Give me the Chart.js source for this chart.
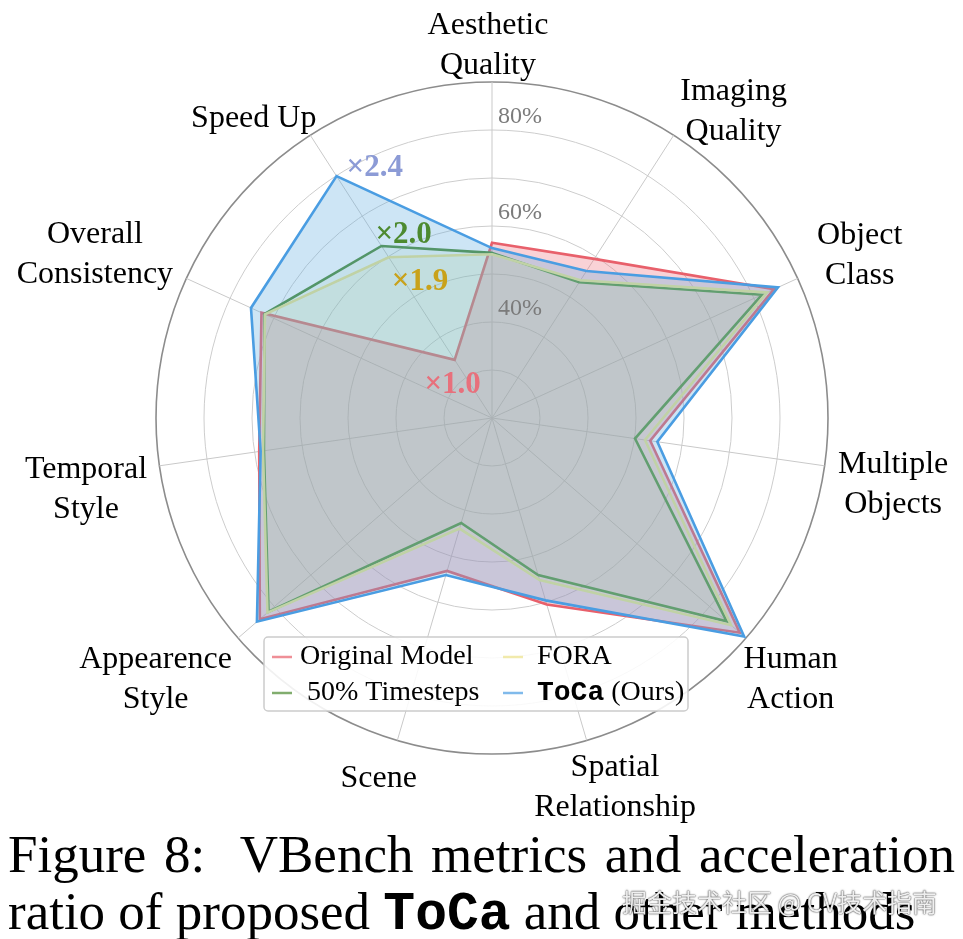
<!DOCTYPE html>
<html>
<head>
<meta charset="utf-8">
<script src="https://cdn.jsdelivr.net/npm/chart.js@4.4.0/dist/chart.umd.min.js"></script>
<style>
  html, body { margin: 0; padding: 0; background: #fff; }
  #wrap { position: relative; width: 963px; height: 939px; overflow: hidden; }
  #wrap canvas { position: absolute; left: 0; top: 0; }
  .caption {
    position: absolute; left: 8px; width: 947px;
    font-family: 'Liberation Serif', serif; font-size: 53px; line-height: 57px; color: #000;
  }
  #cap1 { top: 826px; text-align: justify; text-align-last: justify; }
  #cap2 { top: 883px; white-space: nowrap; }
  #cap2 b { font-family: 'Liberation Mono', monospace; }
  #mark {
    position: absolute; left: 622px; top: 883px;
    font-family: 'Noto Sans CJK SC', sans-serif; font-size: 25px; color: rgba(255,255,255,0.92);
    text-shadow: 0 0 2px rgba(0,0,0,0.7), 0 0 1px rgba(0,0,0,0.7);
    white-space: nowrap;
  }
</style>
</head>
<body>
<div id="wrap">
  <canvas id="radarChart"></canvas>
  <div class="caption" id="cap1">Figure 8:&nbsp; VBench metrics and acceleration</div>
  <div class="caption" id="cap2">ratio of proposed <b>ToCa</b> and other methods</div>
  <div id="mark">掘金技术社区 @ CV技术指南</div>
</div>
<script>
// axes, clockwise from the top
const categories = [
  ['Aesthetic', 'Quality'],
  ['Imaging', 'Quality'],
  ['Object', 'Class'],
  ['Multiple', 'Objects'],
  ['Human', 'Action'],
  ['Spatial', 'Relationship'],
  'Scene',
  ['Appearence', 'Style'],
  ['Temporal', 'Style'],
  ['Overall', 'Consistency'],
  'Speed Up'
];

const seriesNames = ['Original Model', '50% Timesteps', 'FORA', 'ToCa (Ours)'];

const originalModel = [56.5, 59.4, 84.6, 53.3, 88.3, 60.5, 53.2, 84.0, 69.0, 72.8, 34.4];
const halfTimesteps = [54.4, 53.6, 81.8, 50.1, 84.7, 54.1, 42.8, 81.6, 68.0, 72.1, 62.6];
const fora          = [54.1, 54.1, 83.0, 52.2, 85.9, 55.2, 44.0, 81.9, 68.2, 72.0, 59.8];
const toca          = [55.4, 56.4, 85.5, 54.8, 89.5, 59.6, 54.1, 84.8, 68.7, 75.2, 79.9];

const speedUpText = ['×1.0', '×2.0', '×1.9', '×2.4'];
const tickLabels = [40, 60, 80];

const lineColors = ['#e8606b', '#4c8a30', '#ece38a', '#4a9de2'];
const fillColors = ['rgba(235,105,120,0.3)', 'rgba(90,160,70,0.08)', 'rgba(230,225,130,0.15)', 'rgba(100,175,225,0.32)'];
const speedColors = ['#e8707c', '#4d8a30', '#c9a21a', '#8c9bd6'];
// text offsets from each Speed Up vertex: [dx, dy, align]
const speedOffsets = [[-2, 25, 'center'], [-6, -11, 'left'], [3, 25, 'left'], [10, -8, 'left']];
// small per-label corrections to the placement rule: [dx, dy]
const labelNudge = [[-4, 8], [24, 32], [8, 2], [5, 10], [-5, -2], [10, -15], [-9, 6], [-16, -16], [-4, 14], [-8, 14], [-27, 29]];

const serif = '"Liberation Serif", serif';

const textPlugin = {
  id: 'radarText',
  afterDatasetsDraw(chart) {
    const scale = chart.scales.r;
    const ctx = chart.ctx;
    const R = scale.drawingArea;
    ctx.save();

    // ring values, right of the top axis
    ctx.font = '24px ' + serif;
    ctx.fillStyle = '#7b7b7b';
    ctx.textAlign = 'left';
    ctx.textBaseline = 'middle';
    tickLabels.forEach(v => {
      const p = scale.getPointPositionForValue(0, v);
      ctx.fillText(v + '%', p.x + 6, p.y - 13);
    });

    // axis names
    ctx.font = '32px ' + serif;
    ctx.fillStyle = '#000';
    ctx.textAlign = 'center';
    categories.forEach((lab, i) => {
      const lines = [].concat(lab);
      const w = Math.max(...lines.map(t => ctx.measureText(t).width));
      const h = lines.length * 40;
      const a = scale.getIndexAngle(i);
      const d = R + 4 + Math.abs(Math.sin(a)) * w / 2 + Math.abs(Math.cos(a)) * h / 2;
      const p = scale.getPointPosition(i, d);
      const x = p.x + labelNudge[i][0];
      const y = p.y + labelNudge[i][1];
      lines.forEach((t, k) => ctx.fillText(t, x, y - h / 2 + 20 + k * 40));
    });

    // speed up ratios
    ctx.font = 'bold 31px ' + serif;
    const speedIdx = categories.length - 1;
    speedUpText.forEach((t, i) => {
      const pt = chart.getDatasetMeta(i).data[speedIdx];
      const off = speedOffsets[i];
      ctx.fillStyle = speedColors[i];
      ctx.textAlign = off[2];
      ctx.fillText(t, pt.x + off[0], pt.y + off[1]);
    });
    ctx.restore();
  },
  afterDraw(chart) {
    // legend box, two columns
    const ctx = chart.ctx;
    ctx.save();
    ctx.fillStyle = 'rgba(255,255,255,0.88)';
    ctx.strokeStyle = '#cccccc';
    ctx.lineWidth = 1.5;
    ctx.beginPath();
    ctx.roundRect(264, 637, 424, 74, 4);
    ctx.fill();
    ctx.stroke();

    const cols = [[272, 300], [503, 537]];
    const rows = [657, 693];
    ctx.textBaseline = 'middle';
    ctx.textAlign = 'left';
    seriesNames.forEach((name, i) => {
      const c = cols[Math.floor(i / 2)];
      const y = rows[i % 2];
      ctx.globalAlpha = 0.7;
      ctx.strokeStyle = lineColors[i];
      ctx.lineWidth = 2.5;
      ctx.beginPath();
      ctx.moveTo(c[0], y);
      ctx.lineTo(c[0] + 20, y);
      ctx.stroke();
      ctx.globalAlpha = 1;
      ctx.fillStyle = '#000';
      let x = c[1] + (i === 1 ? 7 : 0);
      if (name.startsWith('ToCa')) {
        ctx.font = 'bold 28px "Liberation Mono", monospace';
        ctx.fillText('ToCa', x, y);
        x += ctx.measureText('ToCa').width;
        name = name.slice(4);
      }
      ctx.font = '28px ' + serif;
      ctx.fillText(name, x, y);
    });
    ctx.restore();
  }
};

function radarChart() {
  const ctx = document.getElementById('radarChart').getContext('2d');
  const values = [originalModel, halfTimesteps, fora, toca];

  Chart.defaults.font.family = serif;
  Chart.defaults.color = '#000';

  const data = {
    labels: categories,
    datasets: values.map((v, i) => ({
      label: seriesNames[i],
      data: v,
      borderColor: lineColors[i],
      backgroundColor: fillColors[i],
      borderWidth: 2.6,
      pointRadius: 0,
      fill: true,
      order: values.length - i
    }))
  };

  const config = {
    type: 'radar',
    data: data,
    options: {
      responsive: true,
      maintainAspectRatio: false,
      animation: false,
      layout: {
        padding: { left: 156, right: 135, top: 82, bottom: 185 }
      },
      plugins: {
        legend: { display: false },
        tooltip: { enabled: false }
      },
      scales: {
        r: {
          min: 20,
          max: 90,
          ticks: { stepSize: 10, display: false },
          pointLabels: { display: false },
          angleLines: { color: '#c9c9c9', lineWidth: 1 },
          grid: {
            circular: true,
            color: c => c.tick.value === 90 ? '#8c8c8c' : '#cdcdcd',
            lineWidth: c => c.tick.value === 90 ? 1.6 : 1
          }
        }
      }
    },
    plugins: [textPlugin]
  };
  new Chart(ctx, config);
}

radarChart();
</script>
</body>
</html>
